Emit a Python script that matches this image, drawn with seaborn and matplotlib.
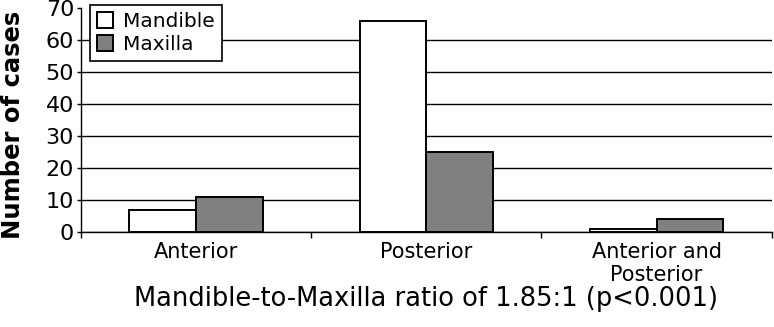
import matplotlib
matplotlib.use("Agg")
import matplotlib.pyplot as plt
import seaborn as sns
import pandas as pd
from matplotlib.ticker import FixedLocator

categories = ["Anterior", "Posterior", "Anterior and\nPosterior"]
series = ["Mandible", "Maxilla"]
mandible = [7, 66, 1]
maxilla = [11, 25, 4]
yticks = [0, 10, 20, 30, 40, 50, 60, 70]
xlabel = "Mandible-to-Maxilla ratio of 1.85:1 (p<0.001)"
ylabel = "Number of cases"

df = pd.DataFrame({
    "Location": categories * 2,
    "Jaw": [series[0]] * 3 + [series[1]] * 3,
    "Cases": mandible + maxilla,
})

sns.set_style("white")
plt.rcParams["font.family"] = ["DejaVu Sans"]
plt.rcParams["text.color"] = "black"
plt.rcParams["axes.labelcolor"] = "black"
plt.rcParams["xtick.color"] = "black"
plt.rcParams["ytick.color"] = "black"

fig = plt.figure(figsize=(7.74, 3.27), dpi=100)
ax = fig.add_axes([0.1047, 0.2905, 0.8923, 0.685])

sns.barplot(data=df, x="Location", y="Cases", hue="Jaw", order=categories,
            hue_order=series, palette={"Mandible": "white", "Maxilla": "#808080"},
            width=0.58, edgecolor="black", linewidth=1.4, errorbar=None,
            saturation=1, ax=ax, zorder=3)

ax.set_xlim(-0.5, 2.5)
ax.set_ylim(0, 70)
ax.set_yticks(yticks)
ax.yaxis.grid(True, color="black", linewidth=1.0, zorder=0)
ax.set_axisbelow(True)
ax.get_ygridlines()[-1].set_visible(False)

ax.tick_params(axis="y", which="major", length=3, width=1, color="black",
               direction="out", labelsize=16, pad=2, left=True, labelcolor="black")
ax.tick_params(axis="x", which="major", length=0, labelsize=15, pad=7, labelcolor="black")
ax.xaxis.set_minor_locator(FixedLocator([-0.5, 0.5, 1.5, 2.5]))
ax.tick_params(axis="x", which="minor", length=4, width=1, color="black",
               direction="out", bottom=True)

for s in ["top", "right"]:
    ax.spines[s].set_visible(False)
for s in ["left", "bottom"]:
    ax.spines[s].set_color("black")
    ax.spines[s].set_linewidth(1.0)

ax.set_xlabel(xlabel, fontsize=18.5, labelpad=1, color="black")
ax.set_ylabel(ylabel, fontsize=17.5, fontweight="heavy", labelpad=4, color="black")
ax.yaxis.set_label_coords(-0.081, 0.478)

leg = ax.legend(loc="upper left", bbox_to_anchor=(0.013, 1.013), borderaxespad=0,
                fontsize=14.5, frameon=True, fancybox=False, framealpha=1,
                edgecolor="black", handlelength=0.8, handleheight=0.8,
                handletextpad=0.5, borderpad=0.35, labelspacing=0.2)
leg.get_frame().set_linewidth(1.2)
leg.set_zorder(5)
for t in leg.get_texts():
    t.set_color("black")

fig.savefig("out.png", dpi=100)
